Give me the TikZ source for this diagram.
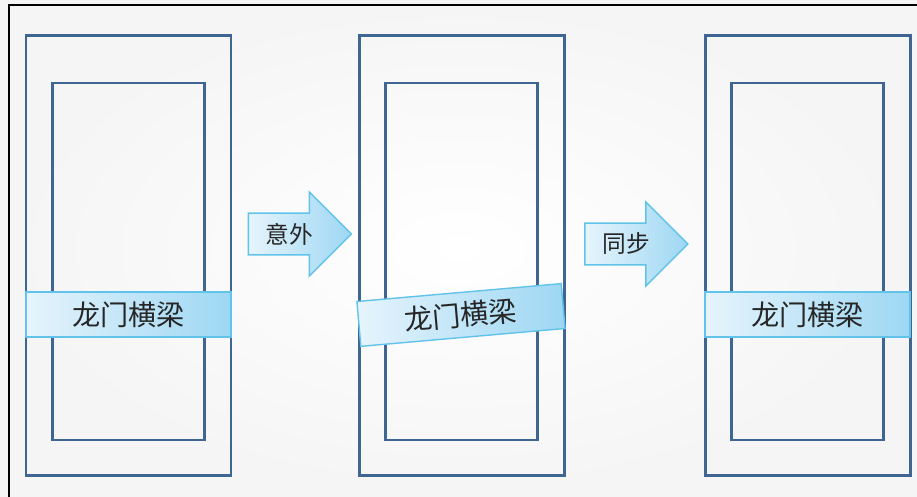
\documentclass[tikz,border=0pt]{standalone}
\usepackage{fontspec}
\newfontfamily\cjk{Noto Sans CJK SC}
\usepackage{xcolor}
\usepackage{tikz}
\usetikzlibrary{shapes.arrows}

\definecolor{framec}{HTML}{3F6592}
\definecolor{beaml}{HTML}{E6F4FC}
\definecolor{beamr}{HTML}{9DD7F3}
\definecolor{beamd}{HTML}{62C3EA}

\begin{document}
\begin{tikzpicture}[
  font=\cjk,
  o/.style={draw=framec,line width=1.7pt,minimum width=41mm,
            minimum height=88mm,inner sep=0pt},
  i/.style={o,minimum width=30.4mm,minimum height=71.4mm},
  b/.style={draw=beamd,line width=0.8pt,left color=beaml,right color=beamr,
            minimum width=41mm,minimum height=9mm,inner sep=0pt,text=black!85,
            font=\cjk\fontsize{16}{16}\selectfont},
  a/.style={single arrow,draw=beamd,line width=0.8pt,left color=beaml,
            right color=beamr,minimum height=20.6mm,minimum width=16.8mm,
            single arrow head extend=4.2mm,inner sep=1.8mm,text=black!85,
            font=\cjk\fontsize{13.5}{13.5}\selectfont}]

% page and frame
\useasboundingbox (0,0) rectangle (18.34,-9.94);
\fill[inner color=white,outer color=black!4] (0,0) rectangle (18.34,-9.94);
\draw[line width=1.2pt] (0.18,-9.94) -- (0.18,-0.1) -- (18.34,-0.1);

% gantry frames
\foreach \n/\x in {1/2.57,2/9.23,3/16.15} {
  \node[o] (o\n) at (\x,-5.11) {};
  \node[i] (i\n) at ([yshift=-1.2mm]o\n) {};
}

% cross beams
\node[b] (b1) at ([yshift=-11.8mm]o1) {龙门横梁};
\node[b,rotate=5] (b2) at (9.22,-6.30) {龙门横梁};
\node[b] (b3) at ([yshift=-11.8mm]o3) {龙门横梁};

% arrows
\node[a] (a1) at (5.79,-4.68) {意外};
\node[a] (a2) at (12.52,-4.88) {同步};
\end{tikzpicture}
\end{document}
